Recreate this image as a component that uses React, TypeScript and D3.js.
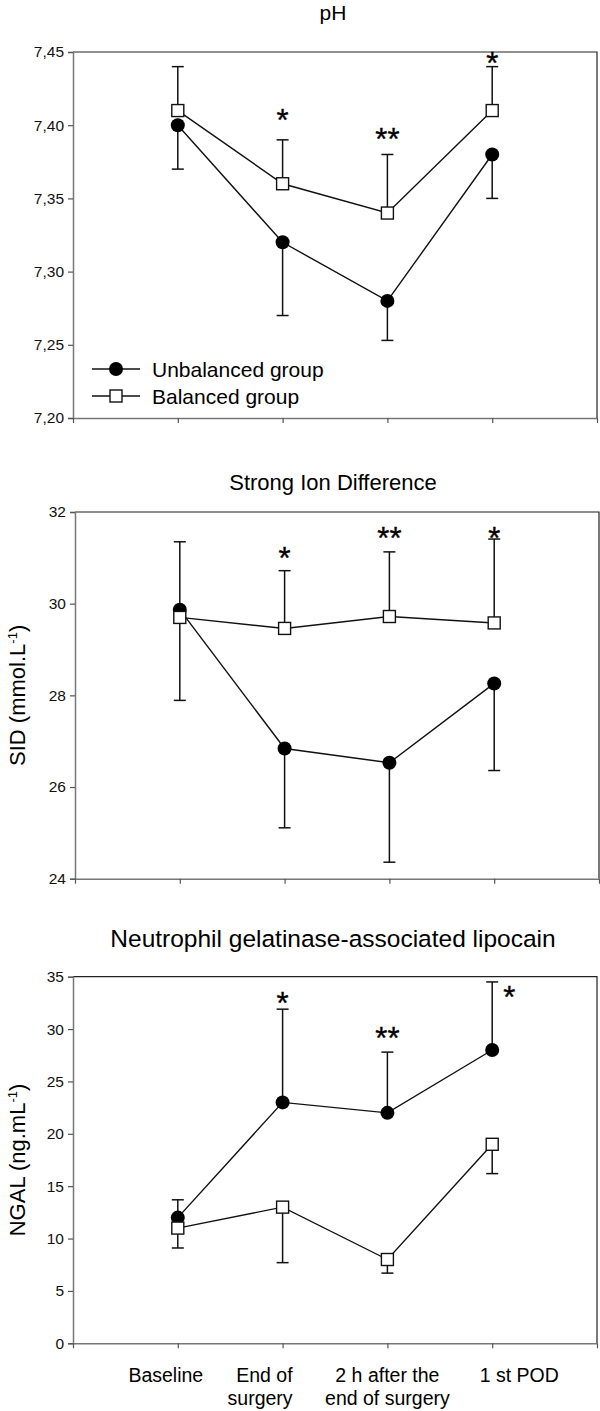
import React, { useEffect, useRef } from "react";
import * as d3 from "d3";

// categories (x axis)
const categoryLines = [["Baseline"], ["End of", "surgery"], ["2 h after the", "end of surgery"], ["1 st POD"]];
const groupNames = ["Unbalanced group", "Balanced group"];

// pH
const phUnbalanced = [7.40, 7.32, 7.28, 7.38];
const phUnbalancedSd = [0.03, 0.05, 0.027, 0.03];
const phBalanced = [7.41, 7.36, 7.34, 7.41];
const phBalancedSd = [0.03, 0.03, 0.04, 0.03];
const phTicks = [7.20, 7.25, 7.30, 7.35, 7.40, 7.45];
const phStars = ["", "*", "**", "*"];
const phStarAt = [NaN, 7.407, 7.394, 7.446];

// Strong Ion Difference
const sidUnbalanced = [29.87, 26.84, 26.53, 28.26];
const sidUnbalancedSd = [1.98, 1.73, 2.17, 1.9];
const sidBalanced = [29.70, 29.46, 29.72, 29.58];
const sidBalancedSd = [1.65, 1.26, 1.41, 1.83];
const sidTicks = [24, 26, 28, 30, 32];
const sidStars = ["", "*", "**", "*"];
const sidStarAt = [NaN, 31.1, 31.54, 31.54];

// NGAL
const ngalUnbalanced = [12, 23, 22, 28];
const ngalUnbalancedSd = [1.7, 8.9, 5.8, 6.5];
const ngalBalanced = [11, 13, 8, 19];
const ngalBalancedSd = [1.9, 5.3, 1.3, 2.8];
const ngalTicks = [0, 5, 10, 15, 20, 25, 30, 35];
const ngalStars = ["", "*", "**", "*"];
const ngalStarAt = [NaN, 32.96, 29.6, 33.5];

const FONT = "'Liberation Sans', Arial, sans-serif";

const panels = [
  {
    title: "pH", titleY: 20, titleSize: 21,
    top: 52, bottom: 418, left: 73, right: 597,
    domain: [7.2, 7.45], ticks: phTicks, fmt: (v: number) => d3.format(".2f")(v).replace(".", ","),
    unb: phUnbalanced, unbSd: phUnbalancedSd, bal: phBalanced, balSd: phBalancedSd,
    unbDir: -1, balDir: 1, stars: phStars, starAt: phStarAt, starDx: [0, 0, 0, 0],
    yLabel: null, legend: true,
  },
  {
    title: "Strong Ion Difference", titleY: 490, titleSize: 22,
    top: 512, bottom: 878.7, left: 75, right: 599,
    domain: [24, 32], ticks: sidTicks, fmt: (v: number) => String(v),
    unb: sidUnbalanced, unbSd: sidUnbalancedSd, bal: sidBalanced, balSd: sidBalancedSd,
    unbDir: -1, balDir: 1, stars: sidStars, starAt: sidStarAt, starDx: [0, 0, 0, 0],
    yLabel: "SID (mmol.L", legend: false,
  },
  {
    title: "Neutrophil gelatinase-associated lipocain", titleY: 947, titleSize: 24.5,
    top: 976.7, bottom: 1343.3, left: 73, right: 597,
    domain: [0, 35], ticks: ngalTicks, fmt: (v: number) => String(v),
    unb: ngalUnbalanced, unbSd: ngalUnbalancedSd, bal: ngalBalanced, balSd: ngalBalancedSd,
    unbDir: 1, balDir: -1, stars: ngalStars, starAt: ngalStarAt, starDx: [0, 0, 0, 17],
    yLabel: "NGAL (ng.mL", legend: false,
  },
];

// label placement tweaks relative to the tick
const xLabelLayout = [
  { anchor: "middle", dx: -12 },
  { anchor: "end", dx: 10 },
  { anchor: "middle", dx: 0 },
  { anchor: "middle", dx: 27 },
];

export default function App() {
  const ref = useRef<SVGSVGElement>(null);

  useEffect(() => {
    document.body.style.margin = "0";
    const svg = d3.select(ref.current);
    svg.selectAll("*").remove();

    panels.forEach((p, pi) => {
      const x = d3.scaleLinear().domain([0, 5]).range([p.left, p.right]);
      const y = d3.scaleLinear().domain(p.domain).range([p.bottom, p.top]);
      const g = svg.append("g");

      // title
      g.append("text")
        .attr("x", 333)
        .attr("y", p.titleY)
        .attr("text-anchor", "middle")
        .attr("font-size", p.titleSize)
        .attr("font-family", FONT)
        .text(p.title);

      // frame top/right
      g.append("path")
        .attr("d", `M${p.left},${p.top}H${p.right}V${p.bottom}`)
        .attr("fill", "none")
        .attr("stroke", "#222")
        .attr("stroke-width", 1.2);

      // y axis
      const yAxis = g.append("g")
        .attr("transform", `translate(${p.left},0)`)
        .call(d3.axisLeft(y).tickValues(p.ticks).tickFormat(p.fmt as any).tickSize(5).tickPadding(4));
      yAxis.select(".domain").attr("stroke", "#777").attr("stroke-width", 1.5);
      yAxis.selectAll(".tick line").attr("stroke", "#555").attr("stroke-width", 1.2);
      yAxis.selectAll("text").attr("font-size", 15.5).attr("font-family", FONT).attr("fill", "#111");

      // x axis
      const xAxis = g.append("g")
        .attr("transform", `translate(0,${p.bottom})`)
        .call(d3.axisBottom(x).tickValues([0, 1, 2, 3, 4, 5]).tickFormat(() => "").tickSize(5).tickSizeOuter(0));
      xAxis.select(".domain").attr("stroke", "#777").attr("stroke-width", 1.5);
      xAxis.selectAll(".tick line").attr("stroke", "#555").attr("stroke-width", 1.2);

      // y label
      if (p.yLabel) {
        const t = g.append("text")
          .attr("transform", `translate(25,${(p.top + p.bottom) / 2}) rotate(-90)`)
          .attr("text-anchor", "middle")
          .attr("font-size", 22)
          .attr("font-family", FONT);
        t.append("tspan").text(p.yLabel);
        t.append("tspan").attr("dy", -8).attr("font-size", 13).text("-1");
        t.append("tspan").attr("dy", 8).text(")");
      }

      const idx = d3.range(p.unb.length);
      const line = d3.line<number>().x(i => x(i + 1));

      // error bars
      const bars = [
        { vals: p.unb, sd: p.unbSd, dir: p.unbDir },
        { vals: p.bal, sd: p.balSd, dir: p.balDir },
      ];
      bars.forEach(b => {
        idx.forEach(i => {
          const end = b.vals[i] + b.dir * b.sd[i];
          g.append("line")
            .attr("x1", x(i + 1)).attr("x2", x(i + 1))
            .attr("y1", y(b.vals[i])).attr("y2", y(end))
            .attr("stroke", "#111").attr("stroke-width", 1.5);
          g.append("line")
            .attr("x1", x(i + 1) - 6).attr("x2", x(i + 1) + 6)
            .attr("y1", y(end)).attr("y2", y(end))
            .attr("stroke", "#111").attr("stroke-width", 1.5);
        });
      });

      // lines
      g.append("path")
        .attr("d", line.y(i => y(p.unb[i]))(idx))
        .attr("fill", "none").attr("stroke", "#111").attr("stroke-width", 1.4);
      g.append("path")
        .attr("d", line.y(i => y(p.bal[i]))(idx))
        .attr("fill", "none").attr("stroke", "#111").attr("stroke-width", 1.4);

      // markers
      g.selectAll(".unb").data(idx).join("circle")
        .attr("cx", i => x(i + 1)).attr("cy", i => y(p.unb[i]))
        .attr("r", 7).attr("fill", "#000");
      g.selectAll(".bal").data(idx).join("rect")
        .attr("x", i => x(i + 1) - 6).attr("y", i => y(p.bal[i]) - 6)
        .attr("width", 12).attr("height", 12)
        .attr("fill", "#fff").attr("stroke", "#111").attr("stroke-width", 1.4);

      // significance stars
      idx.forEach(i => {
        if (!p.stars[i]) return;
        g.append("text")
          .attr("x", x(i + 1) + p.starDx[i])
          .attr("y", y(p.starAt[i]) + 16)
          .attr("text-anchor", "middle")
          .attr("font-size", 31)
          .attr("font-family", FONT)
          .attr("stroke", "#000")
          .attr("stroke-width", 0.4)
          .text(p.stars[i]);
      });

      // legend
      if (p.legend) {
        const lg = g.append("g");
        groupNames.forEach((name, k) => {
          const ly = 369 + k * 27;
          lg.append("line").attr("x1", 92).attr("x2", 140).attr("y1", ly).attr("y2", ly)
            .attr("stroke", "#111").attr("stroke-width", 1.4);
          if (k === 0) {
            lg.append("circle").attr("cx", 116).attr("cy", ly).attr("r", 7).attr("fill", "#000");
          } else {
            lg.append("rect").attr("x", 110).attr("y", ly - 6).attr("width", 12).attr("height", 12)
              .attr("fill", "#fff").attr("stroke", "#111").attr("stroke-width", 1.4);
          }
          lg.append("text").attr("x", 152).attr("y", ly).attr("dy", "0.36em")
            .attr("font-size", 21).attr("font-family", FONT).text(name);
        });
      }

      // category labels on the last panel
      if (pi === panels.length - 1) {
        categoryLines.forEach((lines, i) => {
          const t = g.append("text")
            .attr("text-anchor", xLabelLayout[i].anchor)
            .attr("font-size", 19.5)
            .attr("font-family", FONT);
          lines.forEach((ln, j) => {
            t.append("tspan")
              .attr("x", x(i + 1) + xLabelLayout[i].dx)
              .attr("y", 1382 + j * 23)
              .text(ln);
          });
        });
      }
    });
  }, []);

  return (
    <svg ref={ref} width={600} height={1411} style={{ position: "absolute", left: 0, top: 0, background: "#fff" }} />
  );
}
